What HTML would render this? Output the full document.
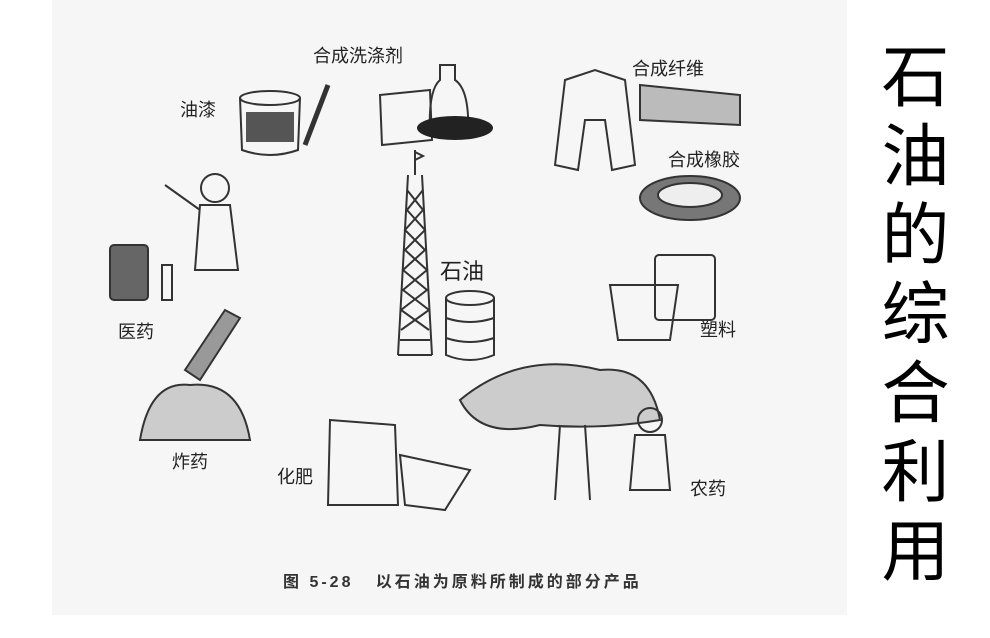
<!DOCTYPE html>
<html><head><meta charset="utf-8"><style>
body{margin:0;width:990px;height:638px;background:#fff;position:relative;overflow:hidden;font-family:"Liberation Sans","Noto Sans CJK SC",sans-serif}
.pic{position:absolute;left:52px;top:0;width:795px;height:615px;background:#f6f6f6}
.l{position:absolute;font-size:18px;color:#222;white-space:nowrap}
.t{position:absolute;left:878px;top:32px;width:75px;font-size:68px;line-height:79px;color:#000;text-align:center;font-family:"Noto Sans CJK SC",sans-serif}
.cap{position:absolute;left:283px;top:568px;font-size:16px;font-weight:bold;color:#333;white-space:nowrap;letter-spacing:3px}
svg{position:absolute;left:0;top:0}
</style></head><body>
<div class="pic"></div>
<svg width="990" height="638" fill="none" stroke="#333" stroke-width="2">
<path d="M408 175 L398 355 M422 175 L432 355 M398 355 L432 355 M400 340 L430 340"/>
<path d="M407 190 L423 210 L405 230 L425 250 L403 270 L427 290 L401 310 L429 330 M423 190 L407 210 L425 230 L405 250 L427 270 L403 290 L429 310 L401 330"/>
<path d="M415 150 L415 175 M415 152 L423 156 L415 160" />
<ellipse cx="470" cy="298" rx="24" ry="7"/><path d="M446 298 L446 355 Q470 365 494 355 L494 298 M446 318 Q470 326 494 318 M446 338 Q470 346 494 338"/>
<ellipse cx="270" cy="98" rx="30" ry="7"/><path d="M240 98 L242 150 Q270 160 298 150 L300 98"/><rect x="246" y="112" width="48" height="30" fill="#555" stroke="none"/>
<path d="M305 145 L328 85" stroke-width="5"/>
<path d="M380 95 L430 90 L432 140 L382 145 Z"/><path d="M440 65 L440 80 Q428 90 430 135 L468 135 Q470 90 455 80 L455 65 Z"/>
<ellipse cx="455" cy="128" rx="38" ry="12" fill="#222" stroke="none"/>
<path d="M565 80 L595 70 L625 80 L635 165 L612 170 L605 120 L585 120 L578 170 L555 165 Z"/>
<path d="M640 85 L740 95 L740 125 L640 120 Z" fill="#bbb"/>
<ellipse cx="690" cy="198" rx="50" ry="22" fill="#777"/><ellipse cx="690" cy="195" rx="32" ry="12" fill="#eee"/>
<rect x="655" y="255" width="60" height="65" rx="4"/><path d="M610 285 L678 285 L670 340 L618 340 Z"/>
<circle cx="215" cy="188" r="14"/><path d="M200 205 L230 205 L238 270 L195 270 Z M200 210 L165 185"/>
<rect x="110" y="245" width="38" height="55" rx="4" fill="#666"/><rect x="162" y="265" width="10" height="35"/>
<path d="M185 370 L225 310 L240 318 L200 380 Z" fill="#999"/><path d="M140 440 Q150 380 190 385 Q240 380 250 440 Z" fill="#ccc"/>
<path d="M330 420 L395 425 L398 505 L328 505 Z M400 455 L470 470 L445 510 L405 505 Z"/>
<path d="M460 400 Q520 350 600 370 Q650 365 660 420 Q600 430 540 425 Q480 440 460 400 Z" fill="#ccc"/>
<path d="M560 425 L555 500 M585 425 L590 500"/><circle cx="650" cy="420" r="12"/><path d="M635 435 L665 435 L670 490 L630 490 Z"/>
</svg>
<div class="l" style="left:313px;top:42px">合成洗涤剂</div>
<div class="l" style="left:180px;top:96px">油漆</div>
<div class="l" style="left:632px;top:55px">合成纤维</div>
<div class="l" style="left:668px;top:146px">合成橡胶</div>
<div class="l" style="left:440px;top:254px;font-size:22px">石油</div>
<div class="l" style="left:118px;top:318px">医药</div>
<div class="l" style="left:700px;top:316px">塑料</div>
<div class="l" style="left:172px;top:448px">炸药</div>
<div class="l" style="left:277px;top:463px">化肥</div>
<div class="l" style="left:690px;top:475px">农药</div>
<div class="cap">图 5-28&nbsp;&nbsp;&nbsp;以石油为原料所制成的部分产品</div>
<div class="t">石油的综合利用</div>
</body></html>
